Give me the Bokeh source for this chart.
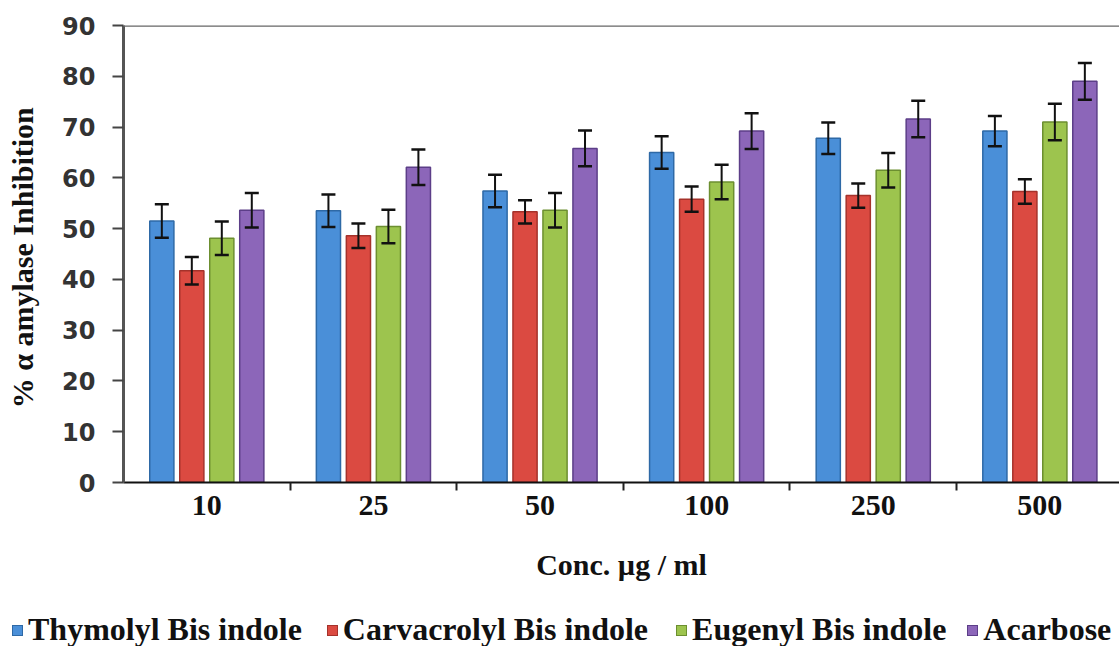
from bokeh.plotting import figure
from bokeh.layouts import column
from bokeh.models import (ColumnDataSource, Whisker, TeeHead, FixedTicker, Range1d, Span, Div)
from bokeh.embed import file_html
from bokeh.resources import INLINE

# ---- data ----
concentrations = ["10", "25", "50", "100", "250", "500"]
series_names = ["Thymolyl Bis indole", "Carvacrolyl Bis indole", "Eugenyl Bis indole", "Acarbose"]
thymolyl = [51.5, 53.5, 57.4, 65.0, 67.8, 69.2]
thymolyl_err = [3.3, 3.2, 3.2, 3.2, 3.1, 3.0]
carvacrolyl = [41.7, 48.6, 53.3, 55.8, 56.5, 57.3]
carvacrolyl_err = [2.7, 2.4, 2.3, 2.5, 2.4, 2.4]
eugenyl = [48.1, 50.4, 53.6, 59.2, 61.5, 71.0]
eugenyl_err = [3.3, 3.3, 3.4, 3.4, 3.4, 3.6]
acarbose = [53.6, 62.1, 65.8, 69.2, 71.6, 79.0]
acarbose_err = [3.4, 3.5, 3.5, 3.5, 3.6, 3.6]
y_ticks = [0, 10, 20, 30, 40, 50, 60, 70, 80, 90]

values = [thymolyl, carvacrolyl, eugenyl, acarbose]
errors = [thymolyl_err, carvacrolyl_err, eugenyl_err, acarbose_err]
fills = ["#4A8FD8", "#DB4A41", "#9DC44E", "#8C66B9"]
edges = ["#2E69A6", "#A5322B", "#6C8F30", "#5C3E88"]
offsets = [-0.27, -0.09, 0.09, 0.27]
bar_w = 0.145

p = figure(width=1119, height=583, output_backend="svg", toolbar_location=None,
           x_range=Range1d(0, 5.978), y_range=Range1d(0, 90),
           min_border_left=123, min_border_right=0, min_border_top=25, min_border_bottom=100)
p.background_fill_color = "white"
p.border_fill_color = "white"
p.outline_line_color = None
p.xgrid.grid_line_color = None
p.ygrid.grid_line_color = None

for k in range(4):
    xs = [i + 0.5 + offsets[k] for i in range(len(concentrations))]
    src = ColumnDataSource(dict(x=xs, top=values[k],
                                upper=[v + e for v, e in zip(values[k], errors[k])],
                                lower=[v - e for v, e in zip(values[k], errors[k])]))
    p.vbar(x="x", top="top", bottom=0, width=bar_w, source=src,
           fill_color=fills[k], line_color=edges[k], line_width=1.5)
    w = Whisker(source=src, base="x", upper="upper", lower="lower", dimension="height",
                line_color="#111111", line_width=2, level="overlay",
                upper_head=TeeHead(size=14, line_width=2.5, line_color="#111111"),
                lower_head=TeeHead(size=14, line_width=2.5, line_color="#111111"))
    p.add_layout(w)

# top border line
p.add_layout(Span(location=90, dimension="width", line_color="#666666", line_width=2.5))

# x axis
xa = p.xaxis[0]
xa.ticker = FixedTicker(ticks=[i + 0.5 for i in range(len(concentrations))],
                        minor_ticks=[float(i) for i in range(1, len(concentrations) + 1)])
xa.major_label_overrides = {i + 0.5: c for i, c in enumerate(concentrations)}
xa.major_tick_line_color = None
xa.major_tick_out = 0
xa.major_tick_in = 0
xa.minor_tick_line_color = "#222222"
xa.minor_tick_line_width = 2
xa.minor_tick_out = 8
xa.minor_tick_in = 0
xa.axis_line_color = "#111111"
xa.axis_line_width = 2
xa.major_label_text_font = "Liberation Serif"
xa.major_label_text_font_style = "bold"
xa.major_label_text_font_size = "30px"
xa.major_label_text_color = "#111111"
xa.major_label_standoff = 5
xa.axis_label = "Conc. µg / ml"
xa.axis_label_text_font = "Liberation Serif"
xa.axis_label_text_font_style = "bold"
xa.axis_label_text_font_size = "30px"
xa.axis_label_text_color = "#111111"
xa.axis_label_standoff = 30

# y axis
ya = p.yaxis[0]
ya.ticker = FixedTicker(ticks=y_ticks)
ya.minor_tick_line_color = None
ya.major_tick_out = 11
ya.major_tick_in = 0
ya.major_tick_line_width = 2
ya.major_tick_line_color = "#444444"
ya.axis_line_color = "#555555"
ya.axis_line_width = 3
ya.major_label_text_font = "DejaVu Sans"
ya.major_label_text_font_style = "bold"
ya.major_label_text_font_size = "24px"
ya.major_label_text_color = "#333333"
ya.major_label_standoff = 17
ya.axis_label = "% α amylase  Inhibition"
ya.axis_label_text_font = "Liberation Serif"
ya.axis_label_text_font_style = "bold"
ya.axis_label_text_font_size = "30px"
ya.axis_label_text_color = "#111111"
ya.axis_label_standoff = 20

# legend strip below the chart (HTML text)
gaps = [12, 25, 28, 21]
parts = []
for k in range(4):
    parts.append(
        f'<span style="display:inline-block;width:11px;height:11px;background:{fills[k]};'
        f'border:1px solid {edges[k]};vertical-align:4px;margin-left:{gaps[k]}px;margin-right:5px;"></span>'
        f'<span>{series_names[k]}</span>')
legend_html = ('<div style="white-space:nowrap;font-family:\'Liberation Serif\';font-weight:bold;'
               'font-size:32px;line-height:34px;color:#111111;padding-top:29px;margin:0;">'
               + "".join(parts) + '</div>')
legend_div = Div(text=legend_html, width=1119, height=63, margin=0)

layout = column(p, legend_div, spacing=0)
open("out.html", "w").write(file_html(layout, INLINE))
